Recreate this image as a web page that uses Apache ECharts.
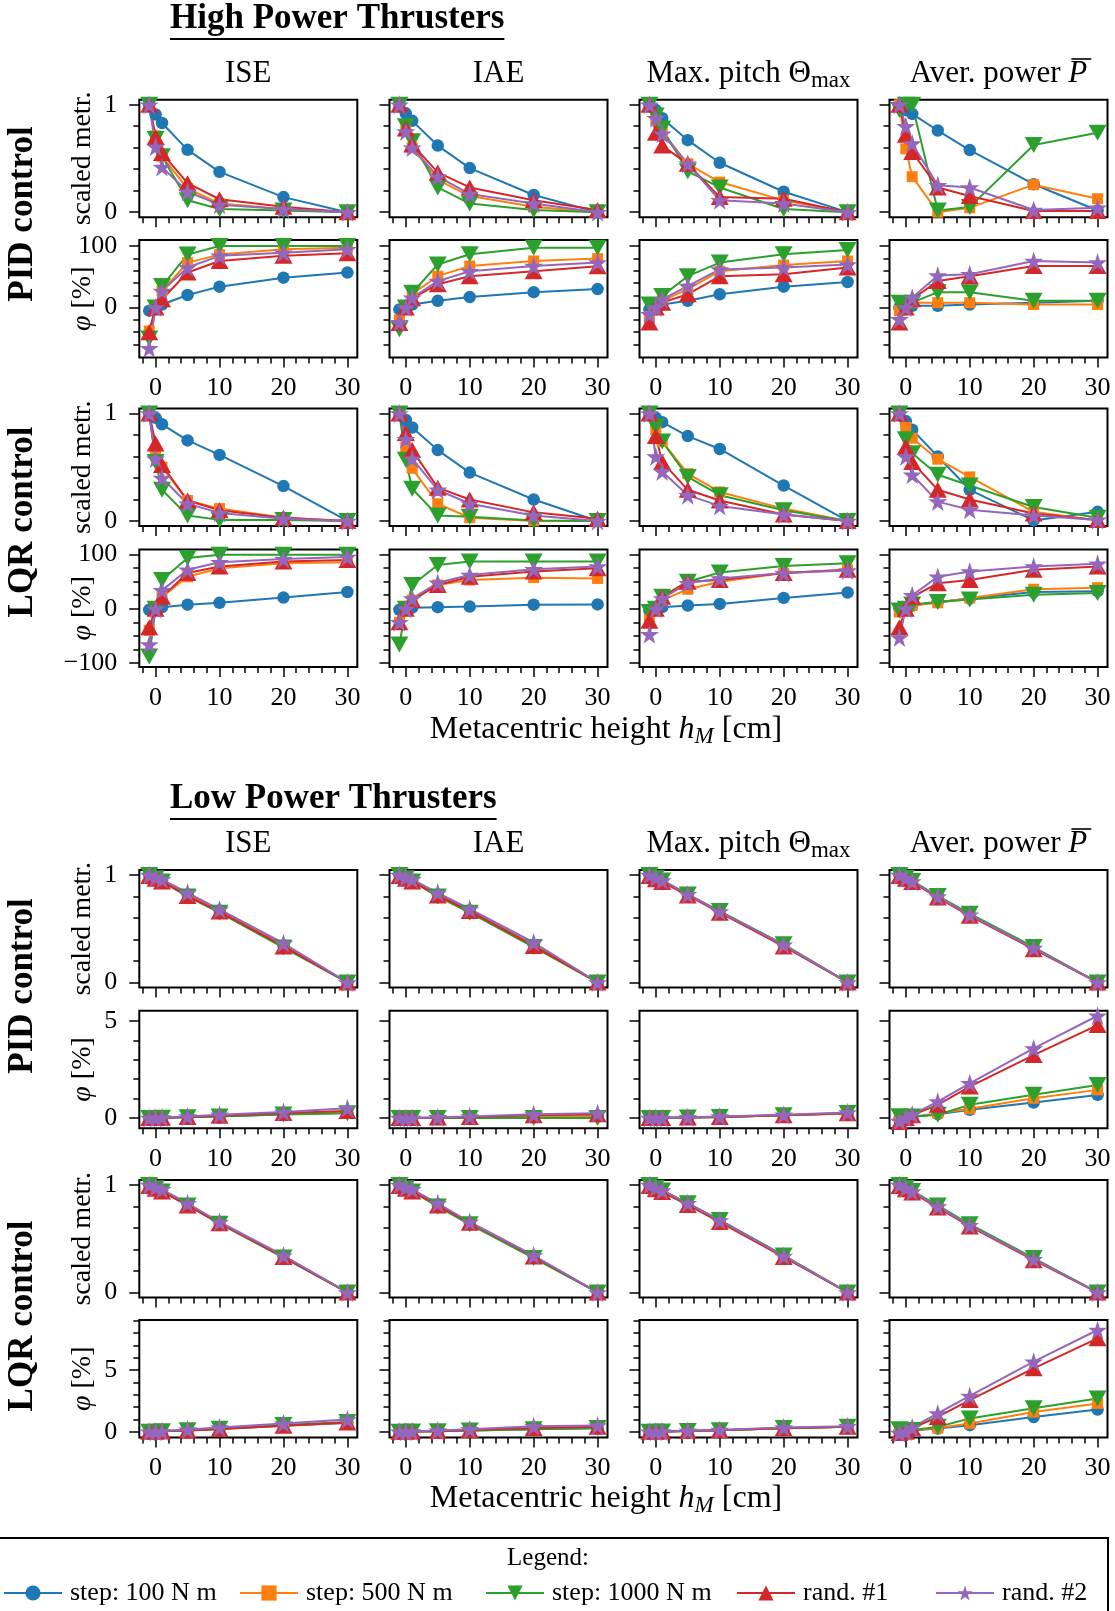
<!DOCTYPE html>
<html>
<head>
<meta charset="utf-8">
<script src="https://cdn.jsdelivr.net/npm/echarts@6/dist/echarts.min.js"></script>
<style>
  html, body { margin: 0; padding: 0; background: #fff; }
  #chart { width: 1115px; height: 1611px; }
</style>
</head>
<body>
<div id="chart"></div>
<script>
// metacentric heights [cm]
const xs = [-1, 0, 1, 5, 10, 20, 30];
const seriesNames = ['step: 100 N m', 'step: 500 N m', 'step: 1000 N m', 'rand. #1', 'rand. #2'];

// tick values
const xMajor = [0, 10, 20, 30];
const xMinor = [-2, 2, 4, 6, 8, 12, 14, 16, 18, 22, 24, 26, 28];
const scaledMajor = [0, 1];
const scaledMinor = [0.2, 0.4, 0.6, 0.8];
const hpPidPhiMajor = [0, 100];
const hpPidPhiMinor = [-60, -40, -20, 20, 40, 60, 80];
const hpLqrPhiMajor = [-100, 0, 100];
const hpLqrPhiMinor = [-75, -50, -25, 25, 50, 75];
const lpPhiMajor = [0, 5];
const lpPidPhiMinor = [1, 2, 3, 4];
const lpLqrPhiMinor = [1, 2, 3, 4, 6, 7, 8, 9];

// rows of each array: step 100, step 500, step 1000, rand #1, rand #2
// ---- High power thrusters, PID, scaled metric
const hpPidScaledIse = [
  [1.0, 0.91, 0.83, 0.58, 0.375, 0.14, 0.0],
  [1.0, 0.71, 0.52, 0.22, 0.08, 0.03, 0.0],
  [1.0, 0.68, 0.52, 0.11, 0.03, 0.015, 0.0],
  [1.0, 0.70, 0.55, 0.27, 0.12, 0.05, 0.0],
  [1.0, 0.61, 0.42, 0.19, 0.07, 0.03, 0.0]
];
const hpPidScaledIae = [
  [1.0, 0.92, 0.85, 0.62, 0.41, 0.16, 0.0],
  [1.0, 0.76, 0.60, 0.30, 0.15, 0.05, 0.0],
  [1.0, 0.80, 0.66, 0.23, 0.08, 0.02, 0.0],
  [1.0, 0.78, 0.63, 0.37, 0.23, 0.11, 0.02],
  [1.0, 0.75, 0.60, 0.33, 0.17, 0.08, 0.0]
];
const hpPidScaledPitch = [
  [1.0, 0.95, 0.875, 0.67, 0.46, 0.19, 0.0],
  [1.0, 0.86, 0.75, 0.45, 0.28, 0.11, 0.0],
  [1.0, 0.90, 0.78, 0.38, 0.23, 0.03, 0.0],
  [1.0, 0.74, 0.62, 0.45, 0.14, 0.125, 0.0],
  [1.0, 0.875, 0.73, 0.45, 0.11, 0.08, 0.0]
];
const hpPidScaledPower = [
  [1.0, 0.95, 0.915, 0.76, 0.578, 0.26, 0.015],
  [1.0, 0.59, 0.33, 0.0, 0.04, 0.256, 0.125],
  [0.95, 1.0, 1.0, 0.015, 0.047, 0.625, 0.74],
  [1.0, 0.72, 0.56, 0.23, 0.15, 0.01, 0.01],
  [1.0, 0.80, 0.64, 0.25, 0.23, 0.02, 0.04]
];
// ---- High power thrusters, PID, phi [%]
const hpPidPhiIse = [
  [-5, 0, 5, 20.5, 34, 48.6, 56.8],
  [-38, 0, 27, 73, 86, 94.6, 97],
  [-50, 0, 35, 86, 100, 100, 100],
  [-40, 0, 13.5, 57, 75.7, 84, 88],
  [-66, 0, 27, 65, 84, 89, 94.6]
];
const hpPidPhiIae = [
  [-3, 0, 5, 11, 17, 25, 30],
  [-20, 0, 22, 51, 67.5, 75.7, 79.5],
  [-35, 0, 24, 70, 86.5, 97, 97],
  [-25, 0, 15, 38, 51, 59, 67],
  [-24, 0, 16, 43, 59, 67.5, 73]
];
const hpPidPhiPitch = [
  [-3, 0, 5, 11, 21.6, 34, 41.6],
  [-15, 0, 11, 30, 59, 69, 75.7],
  [5, 0, 19, 51, 73, 86.5, 93.5],
  [-24, 0, 8, 21.6, 51, 54, 65],
  [-11, 0, 13.5, 35, 62, 65, 70]
];
const hpPidPhiPower = [
  [0, 0, 3, 3, 5, 8, 11],
  [-5, 0, 8, 8, 8, 5, 5],
  [8, 0, 8, 25, 25, 11, 11],
  [-24, 0, 13.5, 43, 51, 67.5, 67.5],
  [-19, 0, 16, 52, 54, 75.7, 73]
];
// ---- High power thrusters, LQR, scaled metric
const hpLqrScaledIse = [
  [1.0, 0.96, 0.90, 0.75, 0.615, 0.325, 0.0],
  [1.0, 0.62, 0.50, 0.19, 0.115, 0.03, 0.0],
  [1.0, 0.55, 0.29, 0.05, 0.01, 0.01, 0.0],
  [1.0, 0.72, 0.52, 0.19, 0.10, 0.03, 0.0],
  [1.0, 0.58, 0.40, 0.16, 0.075, 0.02, 0.0]
];
const hpLqrScaledIae = [
  [1.0, 0.94, 0.87, 0.66, 0.45, 0.20, 0.0],
  [1.0, 0.69, 0.49, 0.16, 0.03, 0.0, 0.0],
  [1.0, 0.57, 0.30, 0.05, 0.04, 0.005, 0.0],
  [1.0, 0.82, 0.66, 0.31, 0.20, 0.08, 0.02],
  [1.0, 0.76, 0.58, 0.29, 0.16, 0.05, 0.0]
];
const hpLqrScaledPitch = [
  [1.0, 0.96, 0.92, 0.79, 0.67, 0.33, 0.0],
  [1.0, 0.85, 0.74, 0.44, 0.27, 0.115, 0.0],
  [1.0, 0.88, 0.74, 0.41, 0.24, 0.10, 0.0],
  [1.0, 0.79, 0.55, 0.29, 0.19, 0.06, 0.0],
  [1.0, 0.60, 0.46, 0.24, 0.14, 0.06, 0.0]
];
const hpLqrScaledPower = [
  [1.0, 0.93, 0.85, 0.60, 0.29, 0.005, 0.085],
  [1.0, 0.87, 0.77, 0.575, 0.41, 0.085, 0.005],
  [1.0, 0.76, 0.63, 0.43, 0.33, 0.13, 0.03],
  [1.0, 0.69, 0.55, 0.29, 0.20, 0.07, 0.01],
  [1.0, 0.60, 0.43, 0.18, 0.105, 0.05, 0.01]
];
// ---- High power thrusters, LQR, phi [%]
const hpLqrPhiIse = [
  [-2, 0, 3, 7.5, 11, 20.6, 31],
  [-40, 0, 22, 59, 75, 84, 86],
  [-88, 0, 53, 94, 100, 100, 100],
  [-34, 0, 22, 66, 78, 87.5, 90],
  [-66, 0, 34, 72, 86, 92, 95.6]
];
const hpLqrPhiIae = [
  [-2, 0, 2, 3, 4, 7.5, 8],
  [-25, 0, 16, 44, 53, 57.5, 56],
  [-66, 0, 44, 81, 87.5, 87.5, 87.5],
  [-25, 0, 16, 44, 59, 69, 75],
  [-25, 0, 19, 48, 62.5, 73, 78]
];
const hpLqrPhiPitch = [
  [-3, 0, 3, 6, 9, 20, 30],
  [-20, 0, 16, 36, 50, 66, 72],
  [-6, 0, 22, 50, 67, 79, 84],
  [-22, 0, 22, 50, 53, 66, 72],
  [-47, 0, 19, 47, 56, 66, 70.6]
];
const hpLqrPhiPower = [
  [0, 0, 6, 12.5, 19, 31, 32.5],
  [-6, 0, 6, 11, 20, 36, 39],
  [-3, 0, 8, 12.5, 17, 26, 29],
  [-34, 0, 22, 47, 53, 72, 78],
  [-53, 0, 25, 59, 69, 78, 83]
];
// ---- Low power thrusters, PID, scaled metric
const lpPidScaledIse = [
  [1.0, 0.975, 0.95, 0.82, 0.67, 0.345, 0.0],
  [1.0, 0.97, 0.945, 0.815, 0.665, 0.34, 0.0],
  [1.0, 0.97, 0.94, 0.80, 0.65, 0.325, 0.0],
  [0.99, 0.965, 0.94, 0.805, 0.66, 0.335, 0.0],
  [1.0, 0.98, 0.96, 0.835, 0.68, 0.365, 0.0]
];
const lpPidScaledIae = [
  [1.0, 0.975, 0.95, 0.82, 0.67, 0.35, 0.0],
  [1.0, 0.97, 0.945, 0.815, 0.665, 0.345, 0.0],
  [1.0, 0.97, 0.94, 0.80, 0.65, 0.33, 0.0],
  [0.99, 0.965, 0.94, 0.81, 0.665, 0.34, 0.0],
  [1.0, 0.98, 0.96, 0.835, 0.684, 0.372, 0.0]
];
const lpPidScaledPitch = [
  [1.0, 0.975, 0.95, 0.82, 0.66, 0.35, 0.0],
  [1.0, 0.97, 0.945, 0.815, 0.66, 0.345, 0.0],
  [1.0, 0.975, 0.95, 0.82, 0.665, 0.355, 0.0],
  [0.99, 0.96, 0.935, 0.81, 0.65, 0.335, 0.0],
  [1.0, 0.975, 0.95, 0.82, 0.66, 0.35, 0.0]
];
const lpPidScaledPower = [
  [1.0, 0.97, 0.94, 0.80, 0.63, 0.32, 0.0],
  [1.0, 0.97, 0.94, 0.80, 0.63, 0.32, 0.0],
  [1.0, 0.975, 0.945, 0.805, 0.64, 0.33, 0.0],
  [0.99, 0.965, 0.935, 0.79, 0.62, 0.31, 0.0],
  [1.0, 0.97, 0.94, 0.80, 0.63, 0.32, 0.0]
];
// ---- Low power thrusters, PID, phi [%]
const lpPidPhiIse = [
  [0, 0, 0.02, 0.05, 0.1, 0.2, 0.28],
  [0, 0, 0.02, 0.05, 0.1, 0.22, 0.3],
  [0, 0, 0.02, 0.04, 0.08, 0.18, 0.25],
  [0, 0, 0.02, 0.06, 0.12, 0.26, 0.36],
  [0, 0, 0.03, 0.085, 0.17, 0.31, 0.51]
];
const lpPidPhiIae = [
  [0, 0, 0.01, 0.02, 0.04, 0.08, 0.12],
  [0, 0, 0.01, 0.02, 0.04, 0.08, 0.12],
  [0, 0, 0.0, 0.0, 0.0, 0.0, 0.0],
  [0, 0, 0.01, 0.03, 0.06, 0.14, 0.2],
  [0, 0, 0.01, 0.04, 0.08, 0.2, 0.25]
];
const lpPidPhiPitch = [
  [0, 0, 0.01, 0.03, 0.06, 0.14, 0.24],
  [0, 0, 0.01, 0.03, 0.06, 0.14, 0.24],
  [0, 0, 0.01, 0.03, 0.06, 0.15, 0.26],
  [0, 0, 0.01, 0.03, 0.06, 0.14, 0.25],
  [0, 0, 0.01, 0.04, 0.08, 0.17, 0.29]
];
const lpPidPhiPower = [
  [-0.05, 0, 0.05, 0.2, 0.43, 0.8, 1.19],
  [-0.05, 0, 0.06, 0.25, 0.48, 1.02, 1.45],
  [0.1, 0, 0.08, 0.17, 0.68, 1.2, 1.7],
  [-0.2, 0, 0.15, 0.68, 1.62, 3.24, 4.78],
  [-0.15, 0, 0.18, 0.85, 1.79, 3.58, 5.26]
];
// ---- Low power thrusters, LQR, scaled metric
const lpLqrScaledIse = [
  [1.0, 0.975, 0.95, 0.82, 0.65, 0.335, 0.0],
  [1.0, 0.97, 0.945, 0.815, 0.65, 0.335, 0.0],
  [1.0, 0.97, 0.94, 0.81, 0.64, 0.325, 0.0],
  [0.99, 0.965, 0.94, 0.81, 0.645, 0.33, 0.0],
  [1.0, 0.98, 0.96, 0.83, 0.656, 0.344, 0.0]
];
const lpLqrScaledIae = [
  [1.0, 0.975, 0.95, 0.82, 0.65, 0.335, 0.0],
  [1.0, 0.97, 0.945, 0.815, 0.645, 0.33, 0.0],
  [1.0, 0.97, 0.94, 0.80, 0.635, 0.32, 0.0],
  [0.99, 0.965, 0.94, 0.81, 0.65, 0.335, 0.0],
  [1.0, 0.98, 0.96, 0.83, 0.656, 0.344, 0.0]
];
const lpLqrScaledPitch = [
  [1.0, 0.975, 0.95, 0.83, 0.67, 0.34, 0.0],
  [1.0, 0.97, 0.945, 0.825, 0.665, 0.34, 0.0],
  [1.0, 0.975, 0.95, 0.83, 0.675, 0.345, 0.0],
  [0.99, 0.96, 0.935, 0.815, 0.655, 0.33, 0.0],
  [1.0, 0.975, 0.95, 0.83, 0.67, 0.34, 0.0]
];
const lpLqrScaledPower = [
  [1.0, 0.97, 0.94, 0.80, 0.625, 0.31, 0.0],
  [1.0, 0.97, 0.94, 0.80, 0.625, 0.31, 0.0],
  [1.0, 0.975, 0.945, 0.81, 0.635, 0.32, 0.0],
  [0.99, 0.96, 0.93, 0.79, 0.615, 0.30, 0.0],
  [1.0, 0.97, 0.94, 0.80, 0.625, 0.31, 0.0]
];
// ---- Low power thrusters, LQR, phi [%]
const lpLqrPhiIse = [
  [0, 0, 0.04, 0.1, 0.22, 0.5, 0.72],
  [0, 0, 0.04, 0.11, 0.24, 0.52, 0.76],
  [0, 0, 0.04, 0.12, 0.25, 0.55, 0.8],
  [0, 0, 0.04, 0.1, 0.22, 0.5, 0.75],
  [0, 0, 0.05, 0.19, 0.35, 0.68, 1.0]
];
const lpLqrPhiIae = [
  [0, 0, 0.02, 0.05, 0.1, 0.2, 0.28],
  [0, 0, 0.02, 0.05, 0.1, 0.22, 0.3],
  [0, 0, 0.02, 0.05, 0.1, 0.2, 0.3],
  [0, 0, 0.02, 0.07, 0.14, 0.3, 0.42],
  [0, 0, 0.03, 0.1, 0.2, 0.46, 0.52]
];
const lpLqrPhiPitch = [
  [0, 0, 0.02, 0.06, 0.12, 0.28, 0.4],
  [0, 0, 0.02, 0.06, 0.12, 0.28, 0.4],
  [0, 0, 0.02, 0.06, 0.13, 0.3, 0.42],
  [0, 0, 0.02, 0.06, 0.12, 0.28, 0.4],
  [0, 0, 0.03, 0.08, 0.15, 0.35, 0.46]
];
const lpLqrPhiPower = [
  [0, 0, 0.1, 0.27, 0.54, 1.2, 1.8],
  [0, 0, 0.12, 0.3, 0.68, 1.6, 2.3],
  [0.2, 0, 0.15, 0.4, 1.08, 1.9, 2.7],
  [-0.1, 0, 0.3, 1.2, 2.57, 5.14, 7.57],
  [-0.1, 0, 0.35, 1.49, 2.9, 5.68, 8.24]
];

const FONT = "'Liberation Serif', 'DejaVu Serif', serif";
const colors = ['#1f77b4', '#ff7f0e', '#2ca02c', '#d62728', '#9467bd'];
const STAR = 'path://M50,0 L61.2,34.5 L97.6,34.5 L68.2,55.9 L79.4,90.5 L50,69.1 L20.6,90.5 L31.8,55.9 L2.4,34.5 L38.8,34.5 Z';
const markers = [
  { symbol: 'circle', size: 12.5, rotate: 0 },
  { symbol: 'rect', size: 11, rotate: 0 },
  { symbol: 'triangle', size: [18, 16], rotate: 180 },
  { symbol: 'triangle', size: [18, 16], rotate: 0 },
  { symbol: STAR, size: 19, rotate: 0 }
];

// layout (px)
const colLeft = [139.3, 389.5, 639.5, 889.5];
const colWidth = 218;
const panelHeight = 117.5;

const scaledRow = { min: -0.047, max: 1.047, major: scaledMajor, minor: scaledMinor, name: 'scaled' };
const rows = [
  Object.assign({ top: 99.7, xLabels: false, data: [hpPidScaledIse, hpPidScaledIae, hpPidScaledPitch, hpPidScaledPower] }, scaledRow),
  { top: 240, xLabels: true, min: -81, max: 109.7, major: hpPidPhiMajor, minor: hpPidPhiMinor, name: 'phi',
    data: [hpPidPhiIse, hpPidPhiIae, hpPidPhiPitch, hpPidPhiPower] },
  Object.assign({ top: 408.5, xLabels: false, data: [hpLqrScaledIse, hpLqrScaledIae, hpLqrScaledPitch, hpLqrScaledPower] }, scaledRow),
  { top: 549.5, xLabels: true, min: -107.6, max: 109.5, major: hpLqrPhiMajor, minor: hpLqrPhiMinor, name: 'phi',
    data: [hpLqrPhiIse, hpLqrPhiIae, hpLqrPhiPitch, hpLqrPhiPower] },
  Object.assign({ top: 870, xLabels: false, data: [lpPidScaledIse, lpPidScaledIae, lpPidScaledPitch, lpPidScaledPower] }, scaledRow),
  { top: 1010.7, xLabels: true, min: -0.52, max: 5.52, major: lpPhiMajor, minor: lpPidPhiMinor, name: 'phi',
    data: [lpPidPhiIse, lpPidPhiIae, lpPidPhiPitch, lpPidPhiPower] },
  Object.assign({ top: 1180, xLabels: false, data: [lpLqrScaledIse, lpLqrScaledIae, lpLqrScaledPitch, lpLqrScaledPower] }, scaledRow),
  { top: 1320, xLabels: true, min: -0.46, max: 9.05, major: lpPhiMajor, minor: lpLqrPhiMinor, name: 'phi',
    data: [lpLqrPhiIse, lpLqrPhiIae, lpLqrPhiPitch, lpLqrPhiPower] }
];

const TICK_SIZE = 26;
const NAME_SIZE = 28;
const tickStyle = { color: '#000', width: 1.5 };
const fmt = v => (v < 0 ? '\u2212' + (-v) : String(v));

const graphics = [];

const grids = [], xAxes = [], yAxes = [], series = [];
rows.forEach((row, r) => {
  // y axis title of the row, left of the first column
  const nameStyle = { fontSize: NAME_SIZE, fontFamily: FONT, fill: '#000', align: 'center', verticalAlign: 'middle' };
  if (row.name === 'phi') {
    nameStyle.text = '{i|\u03c6} [%]';
    nameStyle.rich = { i: { fontSize: NAME_SIZE, fontFamily: FONT, fontStyle: 'italic', fill: '#000' } };
  } else {
    nameStyle.text = 'scaled metr.';
  }
  graphics.push({ type: 'text', x: 83, y: row.top + panelHeight / 2, rotation: Math.PI / 2, style: nameStyle });
  row.data.forEach((vals, c) => {
    const g = grids.length;
    grids.push({
      left: colLeft[c], top: row.top, width: colWidth, height: panelHeight,
      show: true, borderColor: '#000', borderWidth: 2, backgroundColor: 'transparent'
    });
    xAxes.push({
      gridIndex: g, type: 'value', min: -2.55, max: 31.55, position: 'bottom',
      axisLine: { show: false, onZero: false }, splitLine: { show: false },
      axisTick: { show: true, length: 10, lineStyle: tickStyle, customValues: xMajor },
      axisLabel: { show: row.xLabels, customValues: xMajor, margin: 18, fontSize: TICK_SIZE, fontFamily: FONT, color: '#000' }
    });
    xAxes.push({
      gridIndex: g, type: 'value', min: -2.55, max: 31.55, position: 'bottom',
      axisLine: { show: false, onZero: false }, splitLine: { show: false },
      axisTick: { show: true, length: 6, lineStyle: tickStyle, customValues: xMinor },
      axisLabel: { show: false }
    });
    yAxes.push({
      gridIndex: g, type: 'value', min: row.min, max: row.max, position: 'left',
      axisLine: { show: false, onZero: false }, splitLine: { show: false },
      axisTick: { show: true, length: 10, lineStyle: tickStyle, customValues: row.major },
      axisLabel: { show: c === 0, customValues: row.major, formatter: fmt, margin: 22,
        fontSize: TICK_SIZE, fontFamily: FONT, color: '#000' }
    });
    yAxes.push({
      gridIndex: g, type: 'value', min: row.min, max: row.max, position: 'left',
      axisLine: { show: false, onZero: false }, splitLine: { show: false },
      axisTick: { show: true, length: 6, lineStyle: tickStyle, customValues: row.minor },
      axisLabel: { show: false }
    });
    vals.forEach((line, s) => {
      series.push({
        type: 'line', name: seriesNames[s],
        xAxisIndex: 2 * g, yAxisIndex: 2 * g,
        data: xs.map((x, i) => [x, line[i]]),
        symbol: markers[s].symbol, symbolSize: markers[s].size, symbolRotate: markers[s].rotate,
        showAllSymbol: true, clip: true,
        lineStyle: { width: 2, color: colors[s] },
        itemStyle: { color: colors[s] },
        emphasis: { disabled: true }
      });
    });
  });
});

// text measuring for underline / overline
const mctx = document.createElement('canvas').getContext('2d');
function textW(t, size, weight, style) {
  mctx.font = (style || 'normal') + ' ' + (weight || 'normal') + ' ' + size + 'px ' + FONT;
  return mctx.measureText(t).width;
}

const TITLE_SIZE = 35;
function sectionTitle(text, y) {
  const w = textW(text, TITLE_SIZE, 'bold');
  graphics.push({ type: 'text', x: 170, y: y, style: { text: text, fontSize: TITLE_SIZE, fontWeight: 'bold',
    fontFamily: FONT, fill: '#000', align: 'left', verticalAlign: 'middle' } });
  graphics.push({ type: 'line', shape: { x1: 170, y1: y + 20, x2: 170 + w, y2: y + 20 },
    style: { stroke: '#000', lineWidth: 2 } });
}
sectionTitle('High Power Thrusters', 19);
sectionTitle('Low Power Thrusters', 799);

const COL_SIZE = 31;
const colRich = {
  n: { fontSize: COL_SIZE, fontFamily: FONT, color: '#000', lineHeight: 37 },
  i: { fontSize: COL_SIZE, fontFamily: FONT, fontStyle: 'italic', color: '#000', lineHeight: 37 },
  s: { fontSize: 23, fontFamily: FONT, color: '#000', lineHeight: 23, verticalAlign: 'bottom' }
};
function columnTitles(y) {
  const titles = ['{n|ISE}', '{n|IAE}', '{n|Max. pitch \u0398}{s|max}', '{n|Aver. power }{i|P}'];
  titles.forEach((t, c) => {
    const cx = colLeft[c] + colWidth / 2;
    graphics.push({ type: 'text', x: cx, y: y, style: { text: t, rich: colRich, align: 'center', verticalAlign: 'middle' } });
  });
  // overline of P
  const wn = textW('Aver. power ', COL_SIZE);
  const wp = textW('P', COL_SIZE, 'normal', 'italic');
  const cx = colLeft[3] + colWidth / 2;
  const x0 = cx - (wn + wp) / 2 + wn;
  graphics.push({ type: 'line', shape: { x1: x0 + 3, y1: y - 15, x2: x0 + wp + 4, y2: y - 15 },
    style: { stroke: '#000', lineWidth: 1.6 } });
}
columnTitles(74);
columnTitles(844);

function rowLabel(text, y) {
  graphics.push({ type: 'text', x: 23, y: y, rotation: Math.PI / 2,
    style: { text: text, fontSize: 35, fontWeight: 'bold', fontFamily: FONT, fill: '#000',
      align: 'center', verticalAlign: 'middle' } });
}
rowLabel('PID control', 214);
rowLabel('LQR control', 522);
rowLabel('PID control', 986);
rowLabel('LQR control', 1316);

const xlRich = {
  n: { fontSize: 32, fontFamily: FONT, color: '#000', lineHeight: 37 },
  i: { fontSize: 32, fontFamily: FONT, fontStyle: 'italic', color: '#000', lineHeight: 37 },
  s: { fontSize: 23, fontFamily: FONT, fontStyle: 'italic', color: '#000', lineHeight: 23, verticalAlign: 'bottom' }
};
[730, 1499].forEach(y => {
  graphics.push({ type: 'text', x: 606, y: y,
    style: { text: '{n|Metacentric height }{i|h}{s|M}{n| [cm]}', rich: xlRich, align: 'center', verticalAlign: 'middle' } });
});

// legend frame + title
graphics.push({ type: 'rect', shape: { x: -10, y: 1538, width: 1118, height: 100 },
  style: { fill: 'none', stroke: '#000', lineWidth: 2 } });
graphics.push({ type: 'text', x: 548, y: 1558, style: { text: 'Legend:', fontSize: 25, fontFamily: FONT, fill: '#000',
  align: 'center', verticalAlign: 'middle' } });

// one legend per entry so each sits where the reference has it
const legendLeft = [3, 239, 485, 736, 935];
const legends = seriesNames.map((n, i) => ({
  data: [n], left: legendLeft[i], top: 1580, itemWidth: 58, itemHeight: 19, itemGap: 0, padding: 0,
  selectedMode: false,
  textStyle: { fontSize: 26, fontFamily: FONT, color: '#000', padding: [0, 0, 0, 3] }
}));

const chart = echarts.init(document.getElementById('chart'), null, { renderer: 'canvas' });
chart.setOption({
  animation: false,
  backgroundColor: '#fff',
  grid: grids,
  xAxis: xAxes,
  yAxis: yAxes,
  legend: legends,
  series: series,
  graphic: graphics
});
</script>
</body>
</html>
